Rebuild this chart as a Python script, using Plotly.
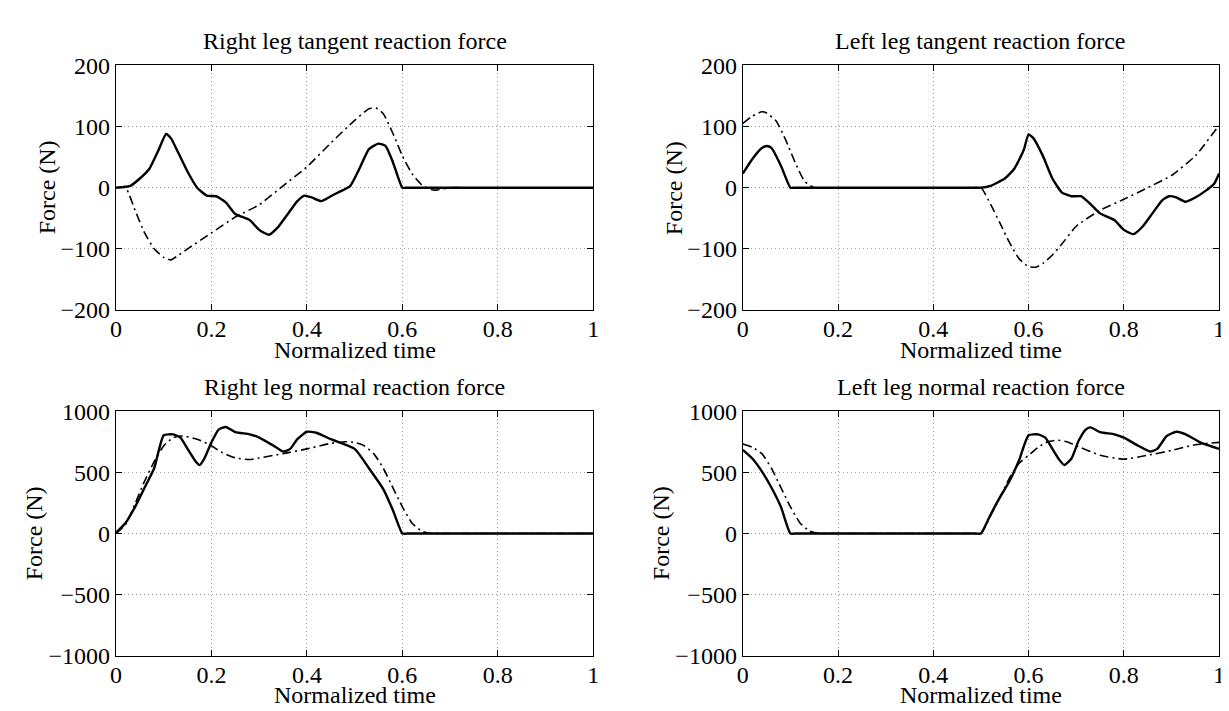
import plotly.graph_objects as go

# ---------------- data ----------------
# Right leg tangent reaction force
rt_solid_t = [0, 0.03, 0.05, 0.07, 0.09, 0.105, 0.115, 0.13, 0.15, 0.17, 0.19, 0.21, 0.23, 0.25,
              0.28, 0.30, 0.32, 0.34, 0.36, 0.38, 0.395, 0.41, 0.43, 0.45, 0.47, 0.49, 0.51, 0.53,
              0.55, 0.565, 0.58, 0.60, 0.61, 0.62, 1.0]
rt_solid_f = [0, 3, 15, 31, 63, 88, 81, 58, 26, 0, -13, -14, -24, -43,
              -53, -69, -77, -64, -43, -22, -13, -16, -22, -14, -6, 2, 31, 63,
              72, 68, 42, 0, 0, 0, 0]
rt_dash_t = [0, 0.02, 0.04, 0.06, 0.08, 0.10, 0.115, 0.13, 0.15, 0.20, 0.25, 0.30, 0.35, 0.40,
             0.45, 0.50, 0.53, 0.545, 0.56, 0.58, 0.60, 0.62, 0.64, 0.66, 0.67, 0.70, 0.72, 1.0]
rt_dash_f = [0, 0, -37, -74, -100, -114, -118, -111, -100, -74, -48, -28, 3, 34,
             73, 110, 129, 130, 121, 89, 52, 23, 5, -3, -4, 0, 0, 0]

# Left leg tangent reaction force
lt_solid_t = [0, 0.02, 0.04, 0.05, 0.06, 0.08, 0.10, 0.11, 0.12, 0.48, 0.50, 0.52, 0.55, 0.57,
              0.59, 0.60, 0.61, 0.63, 0.65, 0.67, 0.69, 0.71, 0.73, 0.75, 0.78, 0.80, 0.82, 0.84,
              0.86, 0.88, 0.895, 0.91, 0.93, 0.95, 0.97, 0.99, 1.0]
lt_solid_f = [23, 47, 65, 68, 65, 36, 0, 0, 0, 0, 0, 3, 15, 31,
              62, 87, 81, 52, 15, -8, -14, -14, -27, -42, -53, -69, -76, -63,
              -42, -21, -14, -16, -23, -16, -6, 7, 23]
lt_dash_t = [0, 0.02, 0.04, 0.05, 0.07, 0.09, 0.11, 0.13, 0.15, 0.17, 0.48, 0.50, 0.52, 0.54,
             0.56, 0.58, 0.60, 0.615, 0.63, 0.65, 0.67, 0.70, 0.75, 0.80, 0.85, 0.90, 0.95, 1.0]
lt_dash_f = [105, 117, 124, 122, 109, 78, 41, 10, 0, 0, 0, 0, -27, -58,
             -90, -116, -129, -130, -124, -110, -92, -63, -37, -19, 0, 20, 52, 102]

# Right leg normal reaction force
rn_solid_t = [0, 0.02, 0.04, 0.06, 0.08, 0.10, 0.12, 0.135, 0.15, 0.165, 0.175, 0.185, 0.20,
              0.215, 0.23, 0.25, 0.28, 0.30, 0.33, 0.35, 0.365, 0.38, 0.40, 0.42, 0.45, 0.50,
              0.53, 0.56, 0.58, 0.60, 0.61, 0.62, 1.0]
rn_solid_f = [8, 87, 218, 376, 534, 803, 810, 784, 692, 600, 560, 613, 745,
              850, 871, 829, 811, 784, 718, 671, 692, 771, 832, 824, 771, 692,
              534, 363, 192, 0, 0, 0, 0]
rn_dash_t = [0, 0.02, 0.04, 0.06, 0.08, 0.10, 0.12, 0.14, 0.17, 0.20, 0.22, 0.25, 0.28, 0.30,
             0.35, 0.40, 0.45, 0.48, 0.50, 0.52, 0.54, 0.56, 0.58, 0.60, 0.62, 0.64, 0.66,
             0.68, 1.0]
rn_dash_f = [0, 74, 245, 429, 587, 718, 784, 797, 771, 718, 666, 618, 605, 618,
             653, 692, 737, 750, 745, 718, 653, 534, 376, 218, 87, 21, 0, 0, 0]

# Left leg normal reaction force
ln_solid_t = [0, 0.02, 0.04, 0.06, 0.08, 0.10, 0.11, 0.12, 0.48, 0.49, 0.50, 0.52, 0.54, 0.56,
              0.58, 0.60, 0.62, 0.635, 0.65, 0.665, 0.675, 0.69, 0.705, 0.72, 0.73, 0.75, 0.78,
              0.80, 0.83, 0.855, 0.87, 0.89, 0.91, 0.93, 0.96, 1.0]
ln_solid_f = [684, 613, 508, 376, 218, 0, 0, 0, 0, 0, 0, 153, 297, 429,
              600, 803, 810, 784, 692, 600, 560, 613, 758, 850, 868, 829, 811,
              784, 718, 671, 692, 797, 832, 811, 745, 692]
ln_dash_t = [0, 0.02, 0.04, 0.06, 0.08, 0.10, 0.12, 0.14, 0.16, 0.18, 0.48, 0.50, 0.52, 0.54,
             0.56, 0.58, 0.60, 0.62, 0.64, 0.66, 0.68, 0.70, 0.75, 0.80, 0.85, 0.90, 0.95, 1.0]
ln_dash_f = [732, 705, 653, 534, 376, 218, 87, 21, 0, 0, 0, 0, 145, 297,
             455, 574, 640, 705, 750, 763, 750, 718, 640, 608, 640, 679, 726, 745]

titles = ["Right leg tangent reaction force", "Left leg tangent reaction force",
          "Right leg normal reaction force", "Left leg normal reaction force"]
x_label = "Normalized time"
y_label = "Force (N)"
x_ticks = [0, 0.2, 0.4, 0.6, 0.8, 1]
x_ticktext = ["0", "0.2", "0.4", "0.6", "0.8", "1"]
y_ticks_tan = [-200, -100, 0, 100, 200]
y_ticks_norm = [-1000, -500, 0, 500, 1000]

# ---------------- figure ----------------
W, H = 1229, 711
FONT = "Liberation Serif"
FS = 24

panels = [
    dict(solid=(rt_solid_t, rt_solid_f), dash=(rt_dash_t, rt_dash_f), yt=y_ticks_tan,
         px=(103, 585), py=(46, 300), ylab_dx=70),
    dict(solid=(lt_solid_t, lt_solid_f), dash=(lt_dash_t, lt_dash_f), yt=y_ticks_tan,
         px=(736, 1217), py=(46, 300), ylab_dx=70),
    dict(solid=(rn_solid_t, rn_solid_f), dash=(rn_dash_t, rn_dash_f), yt=y_ticks_norm,
         px=(103, 585), py=(405, 659), ylab_dx=83),
    dict(solid=(ln_solid_t, ln_solid_f), dash=(ln_dash_t, ln_dash_f), yt=y_ticks_norm,
         px=(736, 1217), py=(405, 659), ylab_dx=83),
]

fig = go.Figure()
annotations = []
layout = dict(width=W, height=H, margin=dict(l=0, r=0, t=0, b=0),
              paper_bgcolor="white", plot_bgcolor="white", showlegend=False,
              font=dict(family=FONT, size=FS, color="black"))

for i, p in enumerate(panels):
    n = i + 1
    xa = "x" if n == 1 else f"x{n}"
    ya = "y" if n == 1 else f"y{n}"
    fig.add_trace(go.Scatter(x=p["dash"][0], y=p["dash"][1], mode="lines", xaxis=xa, yaxis=ya,
                             line=dict(color="black", width=1.6, dash="9px,4px,2px,4px",
                                       shape="spline", smoothing=0.5)))
    fig.add_trace(go.Scatter(x=p["solid"][0], y=p["solid"][1], mode="lines", xaxis=xa, yaxis=ya,
                             line=dict(color="black", width=2.4, shape="spline", smoothing=0.5)))
    xd = [p["px"][0] / W, p["px"][1] / W]
    yd = [1 - p["py"][1] / H, 1 - p["py"][0] / H]
    common = dict(showline=True, linecolor="black", linewidth=1.2, mirror="ticks",
                  ticks="inside", ticklen=6, tickcolor="black", tickwidth=1,
                  showgrid=True, gridcolor="#a0a0a0", griddash="1px,3px", gridwidth=1,
                  zeroline=False, tickfont=dict(family=FONT, size=FS, color="black"))
    layout["xaxis" if n == 1 else f"xaxis{n}"] = dict(
        domain=xd, range=[0, 1], tickvals=x_ticks, ticktext=x_ticktext,
        anchor=ya, ticklabelstandoff=-3, **common)
    yt = p["yt"]
    layout["yaxis" if n == 1 else f"yaxis{n}"] = dict(
        domain=yd, range=[yt[0], yt[-1]], tickvals=yt,
        ticktext=[str(v).replace("-", "\u2212") for v in yt],
        anchor=xa, ticklabelstandoff=0, **common)
    cx = (p["px"][0] + p["px"][1]) / 2 / W
    annotations.append(dict(text=titles[i], x=cx, y=1 - (p["py"][0] - 25) / H, xref="paper", yref="paper",
                            showarrow=False, xanchor="center", yanchor="middle",
                            font=dict(family=FONT, size=FS, color="black")))
    annotations.append(dict(text=x_label, x=cx, y=1 - (p["py"][1] + 41) / H, xref="paper", yref="paper",
                            showarrow=False, xanchor="center", yanchor="middle",
                            font=dict(family=FONT, size=FS, color="black")))
    annotations.append(dict(text=y_label, x=(p["px"][0] - p["ylab_dx"]) / W,
                            y=1 - (p["py"][0] + p["py"][1]) / 2 / H, xref="paper", yref="paper",
                            showarrow=False, xanchor="center", yanchor="middle", textangle=-90,
                            font=dict(family=FONT, size=FS, color="black")))

layout["annotations"] = annotations
fig.update_layout(**layout)
fig.write_html("out.html")
